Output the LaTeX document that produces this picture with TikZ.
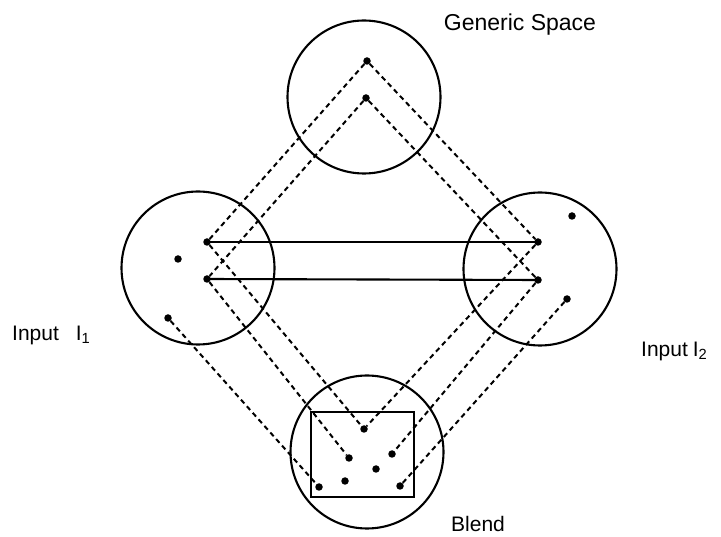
\documentclass[tikz,border=0pt]{standalone}
\usepackage{fontspec}
\setmainfont{Liberation Sans}
\begin{document}
\begin{tikzpicture}[x=1pt,y=-1pt,
  space/.style={draw,circle,line width=2.1pt,minimum size=153pt,inner sep=0pt},
  dot/.style={circle,fill,inner sep=0pt,minimum size=7.5pt},
  map/.style={line width=2pt,dash pattern=on 5pt off 3.8pt},
  link/.style={line width=2.1pt},
  lbl/.style={font=\fontsize{21}{25}\selectfont,inner sep=0pt}]
\useasboundingbox (0,0) rectangle (721,537);
% spaces
\node[space] (G) at (364,97) {};
\node[space] (L) at (198,268) {};
\node[space] (R) at (540,269) {};
\node[space] (B) at (367,452) {};
\node[draw,line width=2.1pt,minimum width=103pt,minimum height=85pt,inner sep=0pt] (box) at (362.5,454.5) {};
% dots
\node[dot] (g1) at (367,61) {};
\node[dot] (g2) at (366,98) {};
\node[dot] (l1) at (207,242) {};
\node[dot] (l2) at (178,259) {};
\node[dot] (l3) at (207,279) {};
\node[dot] (l4) at (168,318) {};
\node[dot] (r1) at (572,216) {};
\node[dot] (r2) at (538,242) {};
\node[dot] (r3) at (538,280) {};
\node[dot] (r4) at (567,299) {};
\node[dot] (b1) at (364,429) {};
\node[dot] (b2) at (349,458) {};
\node[dot] (b3) at (392,454) {};
\node[dot] (b4) at (376,469) {};
\node[dot] (b5) at (345,481) {};
\node[dot] (b6) at (319,487) {};
\node[dot] (b7) at (400,486) {};
% solid links
\draw[link] (l1.center) -- (r2.center);
\draw[link] (l3.center) -- (r3.center);
% generic mappings
\draw[map] (g1) -- (l1);
\draw[map] (g2) -- (l3);
\draw[map] (g1) -- (r2);
\draw[map] (g2) -- (r3);
% projections to blend
\draw[map] (l1) -- (b1);
\draw[map] (l3) -- (b2);
\draw[map] (l4) -- (b6);
\draw[map] (r2) -- (b1);
\draw[map] (r3) -- (b3);
\draw[map] (r4) -- (b7);
% labels
\node[lbl,font=\fontsize{23}{27}\selectfont] (tG) at (520,25) {Generic Space};
\node[lbl,anchor=west] (tL) at (12,335) {Input\hspace{17pt}I\textsubscript{1}};
\node[lbl,anchor=west] (tR) at (641,351) {Input\hspace{5pt}I\textsubscript{2}};
\node[lbl,anchor=base west,font=\fontsize{21}{25}\selectfont] (tB) at (451,531) {Blend};
\end{tikzpicture}
\end{document}
